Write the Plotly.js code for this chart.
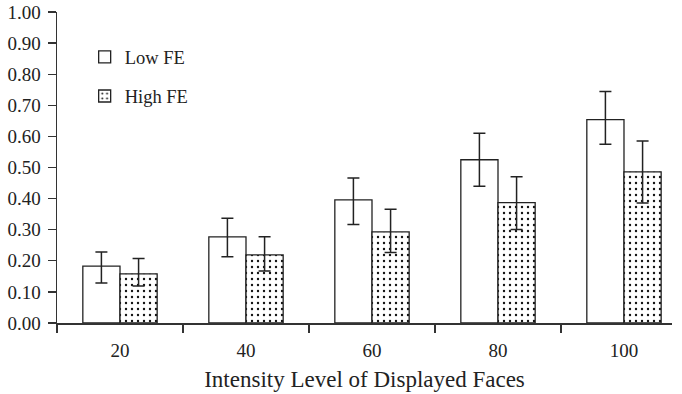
<!DOCTYPE html>
<html>
<head>
<meta charset="utf-8">
<script src="https://cdn.plot.ly/plotly-3.0.1.min.js"></script>
<style>html,body{margin:0;padding:0;background:#fff;}#chart{width:682px;height:394px;}</style>
</head>
<body>
<div id="chart"></div>
<script>
const categories = ['20', '40', '60', '80', '100'];
const lowFE = [0.183, 0.277, 0.396, 0.525, 0.654];
const lowFEPlus = [0.045, 0.060, 0.070, 0.085, 0.090];
const lowFEMinus = [0.054, 0.064, 0.079, 0.085, 0.079];
const highFE = [0.158, 0.219, 0.293, 0.387, 0.486];
const highFEPlus = [0.049, 0.058, 0.073, 0.083, 0.099];
const highFEMinus = [0.039, 0.052, 0.066, 0.086, 0.100];
const seriesNames = ['Low FE', 'High FE'];
const yTicks = [0, 0.1, 0.2, 0.3, 0.4, 0.5, 0.6, 0.7, 0.8, 0.9, 1.0];

const FONT = 'Liberation Serif, Times New Roman, serif';
const errStyle = {type: 'data', symmetric: false, color: '#222', thickness: 1.5, width: 6};

const traces = [
  {
    type: 'bar', name: seriesNames[0], x: categories, y: lowFE, legendgroup: 'a',
    marker: {color: '#ffffff', line: {color: '#222', width: 1.3}},
    error_y: Object.assign({array: lowFEPlus, arrayminus: lowFEMinus}, errStyle)
  },
  {
    type: 'bar', name: seriesNames[1], x: categories, y: highFE, legendgroup: 'b',
    marker: {color: '#ffffff', line: {color: '#222', width: 1.3},
      pattern: {shape: '.', fgcolor: '#111', bgcolor: '#ffffff', size: 6, solidity: 0.12}},
    error_y: Object.assign({array: highFEPlus, arrayminus: highFEMinus}, errStyle)
  }
];

const layout = {
  width: 682, height: 394,
  margin: {l: 57, r: 10, t: 12, b: 71},
  paper_bgcolor: '#fff', plot_bgcolor: '#fff',
  font: {family: FONT, size: 18.5, color: '#222'},
  barmode: 'group', bargap: 0.41, bargroupgap: 0,
  showlegend: true,
  legend: {x: 0.045, y: 0.915, xanchor: 'left', yanchor: 'top', traceorder: 'grouped',
    tracegroupgap: 12, font: {family: FONT, size: 18.5, color: '#222'}, bgcolor: 'rgba(0,0,0,0)'},
  xaxis: {
    type: 'category', range: [-0.5, 4.381], tickson: 'boundaries',
    ticks: 'outside', ticklen: 8, tickwidth: 1.3, tickcolor: '#333',
    showline: true, linecolor: '#333', linewidth: 1.5, showgrid: false, zeroline: false,
    tickfont: {family: FONT, size: 19, color: '#222'}, ticklabelstandoff: 10,
    title: {text: 'Intensity Level of Displayed Faces', font: {family: FONT, size: 23, color: '#222'}, standoff: 10}
  },
  yaxis: {
    range: [0, 1], tickvals: yTicks, tickformat: '.2f',
    ticks: 'outside', ticklen: 8, tickwidth: 1.3, tickcolor: '#333',
    showline: true, linecolor: '#333', linewidth: 1.5, showgrid: false, zeroline: false,
    tickfont: {family: FONT, size: 19, color: '#222'}, ticklabelstandoff: 3
  }
};

Plotly.newPlot('chart', traces, layout, {displayModeBar: false, staticPlot: true});
</script>
</body>
</html>
